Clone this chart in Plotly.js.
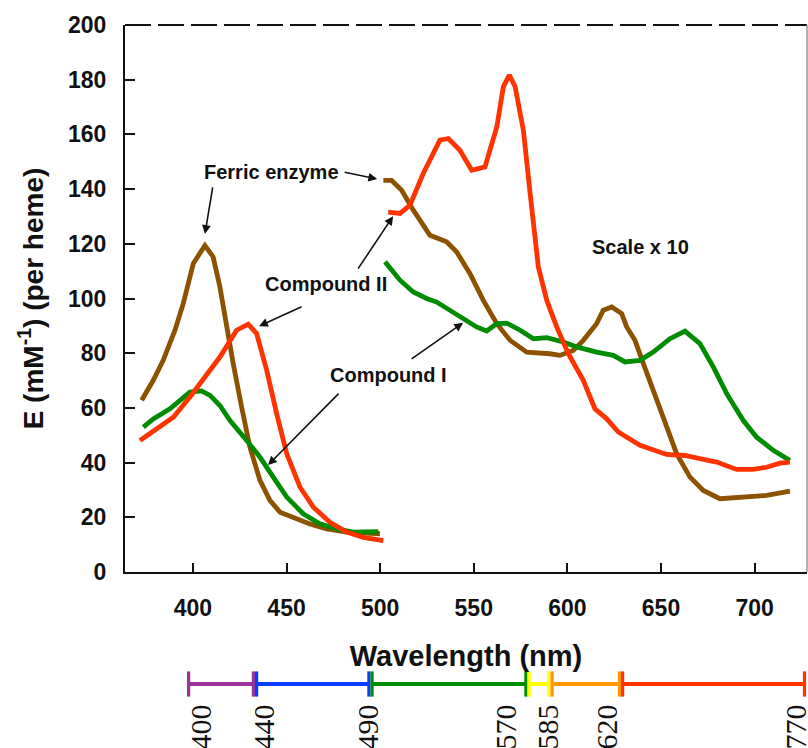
<!DOCTYPE html>
<html><head><meta charset="utf-8">
<script src="https://cdn.plot.ly/plotly-3.0.1.min.js"></script>
<style>html,body{margin:0;padding:0;background:#fff}#chart{width:808px;height:748px}</style>
</head><body><div id="chart"></div>
<script>
// ---- data (wavelength nm, E mM^-1 per heme; visible part drawn at scale x10) ----
const ferricSoretX = [372.6, 378.8, 384.1, 390.4, 394.8, 400.2, 406.4, 410.8, 414.4, 418, 421.5, 426, 430.4, 435.8, 441.1, 446.5, 453.6, 462.5, 471.4, 482.1, 499.9];
const ferricSoretY = [62.8, 70.1, 77.4, 88.4, 98.1, 112.8, 119.4, 115.2, 104.2, 89.6, 76.2, 60.3, 45.7, 33.5, 26.2, 21.9, 20, 17.6, 15.8, 14.6, 14];
const ferricVisX = [501.7, 506.1, 511.5, 517.7, 526.6, 535.5, 540.9, 548, 555.1, 562.3, 569.4, 578.3, 590.7, 596, 603.1, 608.5, 615.6, 619.2, 623.7, 629, 631.7, 636.1, 640.6, 645.9, 651.2, 658.4, 665.5, 672.6, 681.5, 694, 706.5, 718.9];
const ferricVisY = [143.2, 143.2, 139.6, 132.3, 123.1, 120.7, 117, 109.1, 99.3, 90.8, 84.7, 80.4, 79.8, 79.2, 81, 84.7, 90.8, 95.7, 96.9, 94.5, 89.6, 84.7, 76.2, 66.4, 55.4, 43.2, 34.7, 29.8, 26.8, 27.4, 28, 29.6];

const cpd2SoretX = [371.7, 380.6, 389.5, 398.4, 407.3, 414.4, 423.3, 429.5, 434, 439.4, 444.7, 450.1, 457.2, 464.3, 473.2, 482.1, 491, 501.7];
const cpd2SoretY = [48.1, 52.4, 56.6, 64, 72.5, 78.6, 88.4, 90.6, 87.2, 73.7, 57.9, 43.2, 31, 23.7, 18.2, 14.6, 12.7, 11.5];
const cpd2VisX = [504.3, 510.6, 515.9, 523, 531.9, 536.4, 542.6, 548.9, 556, 562.3, 565.8, 569, 572.1, 576.5, 580.1, 581.9, 584.5, 589, 594.3, 600.5, 608.5, 614.7, 620.9, 627.2, 638.8, 653, 662.8, 672.6, 679.7, 690.4, 699.3, 706.4, 713.6, 718.9];
const cpd2VisY = [131.6, 131.1, 134.1, 145.7, 157.9, 158.5, 154.2, 146.9, 148.1, 162.7, 177.4, 181.7, 177.4, 161.5, 138.4, 126.2, 111.5, 99.3, 89.6, 79.8, 70.1, 59.7, 56.1, 51.2, 46.3, 43, 42.6, 41.2, 40.2, 37.5, 37.5, 38.3, 39.8, 40.2];

const cpd1SoretX = [373.5, 378.8, 387.7, 398.4, 404.6, 409.1, 414.4, 419.8, 428.7, 435.8, 442.9, 450.1, 458.9, 467.8, 476.8, 485.6, 499];
const cpd1SoretY = [53, 56, 59.7, 65.8, 66.2, 64.6, 60.9, 55.4, 48.1, 42, 34.7, 27.4, 21.3, 17.6, 15.8, 14.6, 14.8];
const cpd1VisX = [502.6, 506.1, 510.6, 517.7, 524.8, 530.2, 537.3, 546.2, 551.5, 556.9, 562.3, 567.6, 574.8, 581.9, 589, 597.9, 605, 615.6, 624.5, 630.8, 638.8, 645.9, 654.8, 662.8, 670.8, 678, 685.1, 694, 701.1, 710, 718.9];
const cpd1VisY = [113.4, 110.3, 106.7, 102.4, 100, 98.7, 95.7, 92, 89.6, 88.1, 90.8, 91, 88.4, 85.3, 85.7, 84.1, 82.3, 80.4, 79.2, 76.8, 77.4, 80.4, 85.3, 88.1, 83.5, 74.9, 65.2, 55.4, 49.3, 44.5, 40.8];

const xTicks = [400, 450, 500, 550, 600, 650, 700];
const yTicks = [0, 20, 40, 60, 80, 100, 120, 140, 160, 180, 200];

// colour-band key below the chart
const bandEdges = [400, 440, 490, 570, 585, 620, 770];
const bandNames = ['violet', 'blue', 'green', 'yellow', 'orange', 'red'];

// ---- layout / style constants ----
const C_BROWN = '#8C5200', C_RED = '#FF3300', C_GREEN = '#008C00', INK = '#111';
const bandColors = ['#993399', '#0A3CFF', '#008C00', '#FFFF00', '#FF9900', '#FF3300'];
// horizontal placement of the key graphic (in the key axis units = page px)
const bandEdgePx = [188.6, 255, 370.5, 527.5, 550.5, 621, 804.5];
const bandLabelPx = [201, 264, 368, 506, 548, 607, 796];

const traces = [];
function curve(x, y, color, name) {
  traces.push({x: x, y: y, type: 'scatter', mode: 'lines', name: name, xaxis: 'x', yaxis: 'y',
    line: {color: color, width: 4.8, shape: 'linear'}, hoverinfo: 'skip'});
}
curve(ferricSoretX, ferricSoretY, C_BROWN, 'Ferric enzyme');
curve(ferricVisX, ferricVisY, C_BROWN, 'Ferric enzyme (x10)');
curve(cpd1SoretX, cpd1SoretY, C_GREEN, 'Compound I');
curve(cpd1VisX, cpd1VisY, C_GREEN, 'Compound I (x10)');
curve(cpd2SoretX, cpd2SoretY, C_RED, 'Compound II');
curve(cpd2VisX, cpd2VisY, C_RED, 'Compound II (x10)');

for (let i = 0; i < bandNames.length; i++) {
  const a = bandEdgePx[i] + (i > 0 ? 1.6 : 0);
  const b = bandEdgePx[i + 1] - (i < bandNames.length - 1 ? 1.6 : 0);
  traces.push({x: [a, b], y: [0, 0], type: 'scatter', mode: 'lines+markers', name: bandNames[i],
    xaxis: 'x2', yaxis: 'y2', cliponaxis: false, hoverinfo: 'skip',
    line: {color: bandColors[i], width: 4},
    marker: {symbol: 'line-ns', size: 18, color: bandColors[i], line: {color: bandColors[i], width: 3.2}}});
}

const arrowStyle = {showarrow: true, arrowhead: 2, arrowsize: 1.1, arrowwidth: 1.6, arrowcolor: INK, standoff: 0, startstandoff: 0, text: '', xref: 'x', yref: 'y', axref: 'pixel', ayref: 'pixel'};
const arrows = [
  {x: 498.4, y: 143.7, ax: -34, ay: -7},
  {x: 406.4, y: 123.6, ax: 8, ay: -48},
  {x: 435.3, y: 89.9, ax: 44, ay: -20},
  {x: 506.9, y: 130.1, ax: -36, ay: 54},
  {x: 440.1, y: 39.1, ax: 72, ay: -73},
  {x: 544.3, y: 91.1, ax: -53, ay: 37}
].map(a => Object.assign({}, arrowStyle, a));

const labelFont = {family: 'Liberation Sans, Arial, sans-serif', size: 20, color: INK, weight: 'bold'};
const labels = [
  {text: 'Ferric enzyme', x: 442.2, y: 146.4},
  {text: 'Compound II', x: 471.0, y: 105.3},
  {text: 'Compound I', x: 504.2, y: 72.0},
  {text: 'Scale x 10', x: 639.3, y: 118.8}
].map(l => Object.assign({showarrow: false, xref: 'x', yref: 'y', font: labelFont}, l));

const layout = {
  width: 808, height: 748,
  margin: {l: 125, r: 1, t: 25, b: 0, pad: 0},
  paper_bgcolor: '#ffffff', plot_bgcolor: 'rgba(0,0,0,0)',
  showlegend: false,
  font: {family: 'Liberation Sans, Arial, sans-serif', color: INK},
  xaxis: {domain: [0, 1], anchor: 'y', range: [363.7, 728], tickvals: xTicks, ticks: 'inside', ticklen: 9,
    tickwidth: 2, tickcolor: INK, showline: true, linewidth: 2, linecolor: INK, showgrid: false, zeroline: false,
    tickfont: {size: 23, weight: 'bold'}, ticklabelstandoff: 14,
    title: {text: 'Wavelength (nm)', font: {size: 29, weight: 'bold'}, standoff: 26}},
  yaxis: {domain: [0.2434, 1], anchor: 'x', range: [0, 200], tickvals: yTicks, ticks: 'inside', ticklen: 10,
    tickwidth: 2, tickcolor: INK, showline: true, linewidth: 2, linecolor: INK, showgrid: false, zeroline: false,
    tickfont: {size: 23, weight: 'bold'}, ticklabelstandoff: 12,
    title: {text: 'E (mM<sup>-1</sup>) (per heme)', font: {size: 28, weight: 'bold'}, standoff: 16}},
  xaxis2: {domain: [0, 1], anchor: 'y2', range: [125, 807], tickvals: bandLabelPx, ticktext: bandEdges.map(String),
    tickangle: -90, ticks: '', showline: false, showgrid: false, zeroline: false, ticklabeloverflow: 'allow',
    tickfont: {family: 'Liberation Serif, Times New Roman, serif', size: 30, color: INK}},
  yaxis2: {domain: [0.07, 0.107], anchor: 'x2', range: [-1, 1], visible: false, fixedrange: true},
  shapes: [
    {type: 'line', xref: 'paper', yref: 'paper', x0: 0, x1: 1, y0: 1, y1: 1, line: {color: INK, width: 2, dash: '26px,7px'}},
    {type: 'line', xref: 'paper', yref: 'paper', x0: 1, x1: 1, y0: 0.2434, y1: 1, line: {color: '#999', width: 1.5}}
  ],
  annotations: arrows.concat(labels)
};

Plotly.newPlot('chart', traces, layout, {staticPlot: true, displayModeBar: false});
</script></body></html>
